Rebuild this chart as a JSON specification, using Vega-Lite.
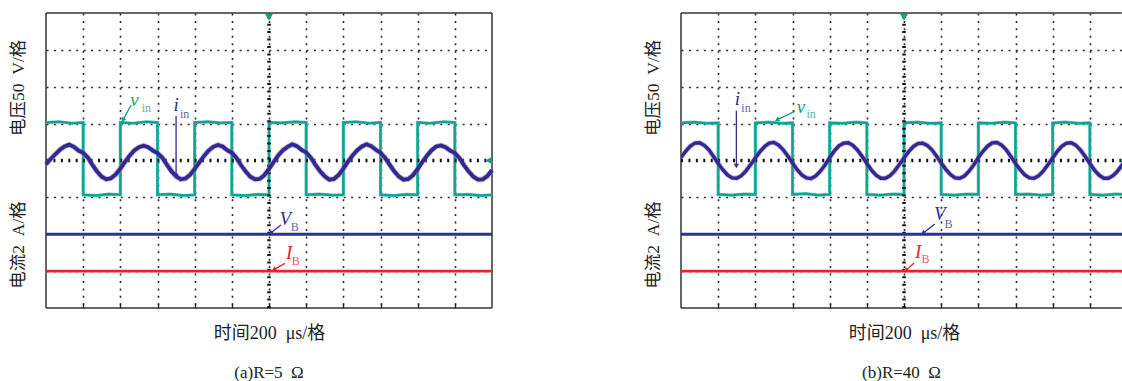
{
  "$schema": "https://vega.github.io/schema/vega-lite/v6.json",
  "padding": {"left": 9, "top": 11, "right": 0, "bottom": 0},
  "background": "white",
  "spacing": 189,
  "bounds": "flush",
  "config": {
    "view": {"stroke": null},
    "font": "Liberation Serif, Noto Sans CJK SC"
  },
  "datasets": {
    "frameA": [
      {"x": 0, "x2": 12, "y": 8, "y2": 8},
      {"x": 0, "x2": 12, "y": 0, "y2": 0},
      {"x": 0, "x2": 0, "y": 0, "y2": 8},
      {"x": 12, "x2": 12, "y": 0, "y2": 8}
    ],
    "frameB": [
      {"x": 0, "x2": 11.86, "y": 8, "y2": 8},
      {"x": 0, "x2": 11.86, "y": 0, "y2": 0},
      {"x": 0, "x2": 0, "y": 0, "y2": 8}
    ],
    "center": [
      {"x": 6, "x2": 6, "y": 0, "y2": 8},
      {"x": 0, "x2": 12, "y": 4, "y2": 4}
    ],
    "flat": [
      {"s": "VB", "x": 0, "x2": 12, "y": 2.0},
      {"s": "IB", "x": 0, "x2": 12, "y": 1.0}
    ],
    "mk": [
      {"m": "top", "x": 6, "y": 7.88},
      {"m": "right", "x": 11.91, "y": 4}
    ],
    "ylab": [
      {"t": "电压50\u2002V/格", "x": -0.73, "y": 5.97},
      {"t": "电流2\u2002A/格", "x": -0.73, "y": 1.71}
    ],
    "sqA": [
      {"x": 0, "y": 5.03}, {"x": 0.35, "y": 5.05}, {"x": 0.7, "y": 5.01}, {"x": 1, "y": 5.03},
      {"x": 1, "y": 3.07}, {"x": 1.35, "y": 3.05}, {"x": 1.7, "y": 3.09}, {"x": 2, "y": 3.07},
      {"x": 2, "y": 5.03}, {"x": 2.35, "y": 5.01}, {"x": 2.7, "y": 5.05}, {"x": 3, "y": 5.03},
      {"x": 3, "y": 3.07}, {"x": 3.35, "y": 3.09}, {"x": 3.7, "y": 3.05}, {"x": 4, "y": 3.07},
      {"x": 4, "y": 5.03}, {"x": 4.35, "y": 5.05}, {"x": 4.7, "y": 5.02}, {"x": 5, "y": 5.03},
      {"x": 5, "y": 3.07}, {"x": 5.35, "y": 3.05}, {"x": 5.7, "y": 3.08}, {"x": 6, "y": 3.07},
      {"x": 6, "y": 5.03}, {"x": 6.35, "y": 5.02}, {"x": 6.7, "y": 5.05}, {"x": 7, "y": 5.03},
      {"x": 7, "y": 3.07}, {"x": 7.35, "y": 3.09}, {"x": 7.7, "y": 3.06}, {"x": 8, "y": 3.07},
      {"x": 8, "y": 5.03}, {"x": 8.35, "y": 5.05}, {"x": 8.7, "y": 5.01}, {"x": 9, "y": 5.03},
      {"x": 9, "y": 3.07}, {"x": 9.35, "y": 3.05}, {"x": 9.7, "y": 3.08}, {"x": 10, "y": 3.07},
      {"x": 10, "y": 5.03}, {"x": 10.35, "y": 5.01}, {"x": 10.7, "y": 5.05}, {"x": 11, "y": 5.03},
      {"x": 11, "y": 3.07}, {"x": 11.35, "y": 3.08}, {"x": 11.7, "y": 3.05}, {"x": 12, "y": 3.07}
    ],
    "sqB": [
      {"x": 0, "y": 5.02}, {"x": 0.35, "y": 5.04}, {"x": 0.7, "y": 5.01}, {"x": 1, "y": 5.02},
      {"x": 1, "y": 3.08}, {"x": 1.35, "y": 3.06}, {"x": 1.7, "y": 3.09}, {"x": 2, "y": 3.08},
      {"x": 2, "y": 5.02}, {"x": 2.35, "y": 5.04}, {"x": 2.7, "y": 5.01}, {"x": 3, "y": 5.02},
      {"x": 3, "y": 3.08}, {"x": 3.35, "y": 3.10}, {"x": 3.7, "y": 3.06}, {"x": 4, "y": 3.08},
      {"x": 4, "y": 5.02}, {"x": 4.35, "y": 5.01}, {"x": 4.7, "y": 5.04}, {"x": 5, "y": 5.02},
      {"x": 5, "y": 3.08}, {"x": 5.35, "y": 3.06}, {"x": 5.7, "y": 3.09}, {"x": 6, "y": 3.08},
      {"x": 6, "y": 5.02}, {"x": 6.35, "y": 5.04}, {"x": 6.7, "y": 5.01}, {"x": 7, "y": 5.02},
      {"x": 7, "y": 3.08}, {"x": 7.35, "y": 3.06}, {"x": 7.7, "y": 3.09}, {"x": 8, "y": 3.08},
      {"x": 8, "y": 5.02}, {"x": 8.35, "y": 5.01}, {"x": 8.7, "y": 5.04}, {"x": 9, "y": 5.02},
      {"x": 9, "y": 3.08}, {"x": 9.35, "y": 3.09}, {"x": 9.7, "y": 3.06}, {"x": 10, "y": 3.08},
      {"x": 10, "y": 5.02}, {"x": 10.35, "y": 5.04}, {"x": 10.7, "y": 5.01}, {"x": 11, "y": 5.02},
      {"x": 11, "y": 3.08}, {"x": 11.35, "y": 3.06}, {"x": 11.7, "y": 3.09}, {"x": 12, "y": 3.08}
    ],
    "sinA": [
      {"x": 0, "y": 3.90}, {"x": 0.125, "y": 4.04}, {"x": 0.25, "y": 4.17}, {"x": 0.375, "y": 4.29},
      {"x": 0.5, "y": 4.38}, {"x": 0.625, "y": 4.43}, {"x": 0.75, "y": 4.37}, {"x": 0.875, "y": 4.27},
      {"x": 1, "y": 4.21}, {"x": 1.125, "y": 4.08}, {"x": 1.25, "y": 3.88}, {"x": 1.375, "y": 3.70},
      {"x": 1.5, "y": 3.56}, {"x": 1.625, "y": 3.49}, {"x": 1.75, "y": 3.52}, {"x": 1.875, "y": 3.62},
      {"x": 2, "y": 3.78}, {"x": 2.125, "y": 3.96}, {"x": 2.25, "y": 4.13}, {"x": 2.375, "y": 4.27},
      {"x": 2.5, "y": 4.36}, {"x": 2.625, "y": 4.40}, {"x": 2.75, "y": 4.36}, {"x": 2.875, "y": 4.27},
      {"x": 3, "y": 4.20}, {"x": 3.125, "y": 4.08}, {"x": 3.25, "y": 3.89}, {"x": 3.375, "y": 3.71},
      {"x": 3.5, "y": 3.57}, {"x": 3.625, "y": 3.49}, {"x": 3.75, "y": 3.51}, {"x": 3.875, "y": 3.61},
      {"x": 4, "y": 3.77}, {"x": 4.125, "y": 3.95}, {"x": 4.25, "y": 4.12}, {"x": 4.375, "y": 4.27},
      {"x": 4.5, "y": 4.37}, {"x": 4.625, "y": 4.42}, {"x": 4.75, "y": 4.38}, {"x": 4.875, "y": 4.28},
      {"x": 5, "y": 4.21}, {"x": 5.125, "y": 4.07}, {"x": 5.25, "y": 3.87}, {"x": 5.375, "y": 3.70},
      {"x": 5.5, "y": 3.56}, {"x": 5.625, "y": 3.49}, {"x": 5.75, "y": 3.50}, {"x": 5.875, "y": 3.60},
      {"x": 6, "y": 3.77}, {"x": 6.125, "y": 3.96}, {"x": 6.25, "y": 4.14}, {"x": 6.375, "y": 4.28},
      {"x": 6.5, "y": 4.37}, {"x": 6.625, "y": 4.44}, {"x": 6.75, "y": 4.39}, {"x": 6.875, "y": 4.29},
      {"x": 7, "y": 4.22}, {"x": 7.125, "y": 4.08}, {"x": 7.25, "y": 3.88}, {"x": 7.375, "y": 3.71},
      {"x": 7.5, "y": 3.57}, {"x": 7.625, "y": 3.48}, {"x": 7.75, "y": 3.50}, {"x": 7.875, "y": 3.61},
      {"x": 8, "y": 3.78}, {"x": 8.125, "y": 3.97}, {"x": 8.25, "y": 4.14}, {"x": 8.375, "y": 4.28},
      {"x": 8.5, "y": 4.38}, {"x": 8.625, "y": 4.44}, {"x": 8.75, "y": 4.39}, {"x": 8.875, "y": 4.29},
      {"x": 9, "y": 4.21}, {"x": 9.125, "y": 4.07}, {"x": 9.25, "y": 3.88}, {"x": 9.375, "y": 3.70},
      {"x": 9.5, "y": 3.56}, {"x": 9.625, "y": 3.48}, {"x": 9.75, "y": 3.50}, {"x": 9.875, "y": 3.60},
      {"x": 10, "y": 3.77}, {"x": 10.125, "y": 3.96}, {"x": 10.25, "y": 4.13}, {"x": 10.375, "y": 4.28},
      {"x": 10.5, "y": 4.38}, {"x": 10.625, "y": 4.41}, {"x": 10.75, "y": 4.36}, {"x": 10.875, "y": 4.27},
      {"x": 11, "y": 4.20}, {"x": 11.125, "y": 4.06}, {"x": 11.25, "y": 3.87}, {"x": 11.375, "y": 3.70},
      {"x": 11.5, "y": 3.56}, {"x": 11.625, "y": 3.48}, {"x": 11.75, "y": 3.49}, {"x": 11.875, "y": 3.58},
      {"x": 12, "y": 3.74}
    ],
    "sinB": [
      {"x": 0, "y": 4.08}, {"x": 0.125, "y": 4.25}, {"x": 0.25, "y": 4.39}, {"x": 0.375, "y": 4.47},
      {"x": 0.5, "y": 4.48}, {"x": 0.625, "y": 4.41}, {"x": 0.75, "y": 4.29}, {"x": 0.875, "y": 4.11},
      {"x": 1, "y": 3.92}, {"x": 1.125, "y": 3.75}, {"x": 1.25, "y": 3.61}, {"x": 1.375, "y": 3.53},
      {"x": 1.5, "y": 3.52}, {"x": 1.625, "y": 3.59}, {"x": 1.75, "y": 3.72}, {"x": 1.875, "y": 3.89},
      {"x": 2, "y": 4.07}, {"x": 2.125, "y": 4.24}, {"x": 2.25, "y": 4.38}, {"x": 2.375, "y": 4.47},
      {"x": 2.5, "y": 4.49}, {"x": 2.625, "y": 4.42}, {"x": 2.75, "y": 4.29}, {"x": 2.875, "y": 4.12},
      {"x": 3, "y": 3.93}, {"x": 3.125, "y": 3.75}, {"x": 3.25, "y": 3.61}, {"x": 3.375, "y": 3.53},
      {"x": 3.5, "y": 3.51}, {"x": 3.625, "y": 3.58}, {"x": 3.75, "y": 3.71}, {"x": 3.875, "y": 3.88},
      {"x": 4, "y": 4.08}, {"x": 4.125, "y": 4.26}, {"x": 4.25, "y": 4.40}, {"x": 4.375, "y": 4.47},
      {"x": 4.5, "y": 4.48}, {"x": 4.625, "y": 4.41}, {"x": 4.75, "y": 4.28}, {"x": 4.875, "y": 4.11},
      {"x": 5, "y": 3.92}, {"x": 5.125, "y": 3.74}, {"x": 5.25, "y": 3.60}, {"x": 5.375, "y": 3.52},
      {"x": 5.5, "y": 3.52}, {"x": 5.625, "y": 3.59}, {"x": 5.75, "y": 3.72}, {"x": 5.875, "y": 3.89},
      {"x": 6, "y": 4.07}, {"x": 6.125, "y": 4.24}, {"x": 6.25, "y": 4.38}, {"x": 6.375, "y": 4.46},
      {"x": 6.5, "y": 4.47}, {"x": 6.625, "y": 4.41}, {"x": 6.75, "y": 4.29}, {"x": 6.875, "y": 4.12},
      {"x": 7, "y": 3.93}, {"x": 7.125, "y": 3.76}, {"x": 7.25, "y": 3.62}, {"x": 7.375, "y": 3.53},
      {"x": 7.5, "y": 3.52}, {"x": 7.625, "y": 3.58}, {"x": 7.75, "y": 3.71}, {"x": 7.875, "y": 3.88},
      {"x": 8, "y": 4.08}, {"x": 8.125, "y": 4.25}, {"x": 8.25, "y": 4.39}, {"x": 8.375, "y": 4.48},
      {"x": 8.5, "y": 4.49}, {"x": 8.625, "y": 4.42}, {"x": 8.75, "y": 4.29}, {"x": 8.875, "y": 4.11},
      {"x": 9, "y": 3.92}, {"x": 9.125, "y": 3.75}, {"x": 9.25, "y": 3.61}, {"x": 9.375, "y": 3.53},
      {"x": 9.5, "y": 3.52}, {"x": 9.625, "y": 3.59}, {"x": 9.75, "y": 3.72}, {"x": 9.875, "y": 3.89},
      {"x": 10, "y": 4.07}, {"x": 10.125, "y": 4.25}, {"x": 10.25, "y": 4.39}, {"x": 10.375, "y": 4.47},
      {"x": 10.5, "y": 4.48}, {"x": 10.625, "y": 4.41}, {"x": 10.75, "y": 4.28}, {"x": 10.875, "y": 4.11},
      {"x": 11, "y": 3.92}, {"x": 11.125, "y": 3.74}, {"x": 11.25, "y": 3.60}, {"x": 11.375, "y": 3.52},
      {"x": 11.5, "y": 3.52}, {"x": 11.625, "y": 3.59}, {"x": 11.75, "y": 3.72}, {"x": 11.875, "y": 3.89},
      {"x": 12, "y": 4.07}
    ],
    "labA": [
      {"t": "v", "k": "m", "s": "vin", "x": 2.38, "y": 5.64},
      {"t": "in", "k": "s", "s": "vin", "x": 2.70, "y": 5.43},
      {"t": "i", "k": "m", "s": "iin", "x": 3.50, "y": 5.50},
      {"t": "in", "k": "s", "s": "iin", "x": 3.73, "y": 5.27},
      {"t": "V", "k": "m", "s": "VB", "x": 6.44, "y": 2.42},
      {"t": "B", "k": "s", "s": "VB", "x": 6.69, "y": 2.20},
      {"t": "I", "k": "m", "s": "IB", "x": 6.54, "y": 1.48},
      {"t": "B", "k": "s", "s": "IB", "x": 6.72, "y": 1.27}
    ],
    "arrA": [
      {"s": "vin", "x": 2.07, "y": 5.10, "x2": 2.29, "y2": 5.50},
      {"s": "iin", "x": 3.50, "y": 3.58, "x2": 3.50, "y2": 5.21},
      {"s": "VB", "x": 6.04, "y": 2.03, "x2": 6.32, "y2": 2.25},
      {"s": "IB", "x": 6.13, "y": 1.04, "x2": 6.43, "y2": 1.21}
    ],
    "labB": [
      {"t": "i", "k": "m", "s": "iin", "x": 1.52, "y": 5.67},
      {"t": "in", "k": "s", "s": "iin", "x": 1.75, "y": 5.42},
      {"t": "v", "k": "m", "s": "vin", "x": 3.23, "y": 5.45},
      {"t": "in", "k": "s", "s": "vin", "x": 3.50, "y": 5.26},
      {"t": "V", "k": "m", "s": "VB", "x": 6.96, "y": 2.55},
      {"t": "B", "k": "s", "s": "VB", "x": 7.20, "y": 2.28},
      {"t": "I", "k": "m", "s": "IB", "x": 6.38, "y": 1.53},
      {"t": "B", "k": "s", "s": "IB", "x": 6.58, "y": 1.33}
    ],
    "arrB": [
      {"s": "iin", "x": 1.49, "y": 3.85, "x2": 1.49, "y2": 5.35},
      {"s": "vin", "x": 2.58, "y": 5.10, "x2": 3.06, "y2": 5.33},
      {"s": "VB", "x": 6.51, "y": 2.03, "x2": 6.83, "y2": 2.28},
      {"s": "IB", "x": 6.05, "y": 1.02, "x2": 6.27, "y2": 1.22}
    ]
  },
  "hconcat": [
    {
      "width": 446,
      "height": 295,
      "title": {"text": "(a)R=5\u2002Ω", "orient": "bottom", "offset": 23, "fontSize": 17, "fontWeight": "normal", "font": "Liberation Serif, Noto Sans CJK SC", "color": "#222"},
      "encoding": {
        "x": {"field": "x", "type": "quantitative", "scale": {"domain": [0, 12], "nice": false, "zero": false},
          "axis": {"values": [1, 2, 3, 4, 5, 6, 7, 8, 9, 10, 11], "grid": true, "gridDash": [2, 5.43], "gridColor": "#2a2a2a", "gridWidth": 1.6, "domain": false, "labels": false, "ticks": true, "tickSize": -5, "tickColor": "#222", "tickWidth": 1.3,
            "title": "时间200\u2002μs/格", "titleFont": "Liberation Serif, Noto Sans CJK SC", "titleFontSize": 18, "titleFontWeight": "normal", "titleColor": "#222", "titleBaseline": "middle", "titleAlign": "center", "titleY": 25, "titleX": 223}},
        "y": {"field": "y", "type": "quantitative", "scale": {"domain": [0, 8], "nice": false, "zero": false},
          "axis": {"values": [1, 2, 3, 5, 6, 7], "grid": true, "gridDash": [2, 5.43], "gridColor": "#2a2a2a", "gridWidth": 1.6, "domain": false, "labels": false, "ticks": false, "title": null}}
      },
      "layer": [
        {"data": {"name": "frameA"}, "mark": {"type": "rule", "color": "#333", "strokeWidth": 1.5}, "encoding": {"x2": {"field": "x2"}, "y2": {"field": "y2"}}},
        {"data": {"name": "sqA"}, "mark": {"type": "line", "color": "#3cc6cc", "strokeWidth": 3.2}, "encoding": {"order": {"value": null}}},
        {"data": {"name": "sqA"}, "mark": {"type": "line", "color": "#16a083", "strokeWidth": 2}, "encoding": {"order": {"value": null}}},
        {"data": {"name": "center"}, "mark": {"type": "rule", "color": "#111", "strokeWidth": 3.5, "strokeDash": [2, 5.43]}, "encoding": {"x2": {"field": "x2"}, "y2": {"field": "y2"}}},
        {"data": {"name": "sinA"}, "mark": {"type": "line", "color": "#a070c0", "strokeWidth": 5.5, "opacity": 0.55}},
        {"data": {"name": "sinA"}, "mark": {"type": "line", "color": "#2e2a8f", "strokeWidth": 3.8}},
        {"data": {"name": "flat"}, "mark": {"type": "rule", "strokeWidth": 2.8}, "encoding": {"x2": {"field": "x2"}, "color": {"field": "s", "type": "nominal", "scale": {"domain": ["vin", "iin", "VB", "IB"], "range": ["#179c80", "#2f2c94", "#2f309a", "#e2262e"]}, "legend": null}}},
        {"data": {"name": "mk"}, "mark": {"type": "point", "filled": true, "color": "#17a184", "size": 60, "opacity": 1}, "encoding": {"shape": {"field": "m", "type": "nominal", "scale": {"domain": ["top", "right"], "range": ["triangle-down", "triangle-left"]}, "legend": null}}},
        {"data": {"name": "arrA"}, "mark": {"type": "rule", "strokeWidth": 1.3}, "encoding": {"x2": {"field": "x2"}, "y2": {"field": "y2"}, "color": {"field": "s", "type": "nominal", "legend": null}}},
        {"data": {"name": "arrA"}, "transform": [{"calculate": "atan2((datum.x-datum.x2)*37.17,(datum.y-datum.y2)*36.875)*180/PI", "as": "a"}], "mark": {"type": "point", "shape": "triangle-up", "filled": true, "size": 28, "opacity": 1}, "encoding": {"angle": {"field": "a", "type": "quantitative", "scale": null}, "color": {"field": "s", "type": "nominal", "legend": null}}},
        {"data": {"name": "labA"}, "transform": [{"filter": "datum.k == 'm'"}], "mark": {"type": "text", "font": "Liberation Serif", "fontStyle": "italic", "fontSize": 19}, "encoding": {"text": {"field": "t"}, "color": {"field": "s", "type": "nominal", "legend": null}}},
        {"data": {"name": "labA"}, "transform": [{"filter": "datum.k == 's'"}], "mark": {"type": "text", "font": "Liberation Serif", "fontSize": 12, "opacity": 0.75}, "encoding": {"text": {"field": "t"}, "color": {"field": "s", "type": "nominal", "legend": null}}},
        {"data": {"name": "ylab"}, "mark": {"type": "text", "angle": 270, "fontSize": 17.5, "font": "Liberation Serif, Noto Sans CJK SC", "color": "#222"}, "encoding": {"text": {"field": "t"}}}
      ]
    },
    {
      "width": 441,
      "height": 295,
      "title": {"text": "(b)R=40\u2002Ω", "orient": "bottom", "offset": 23, "fontSize": 17, "fontWeight": "normal", "font": "Liberation Serif, Noto Sans CJK SC", "color": "#222"},
      "encoding": {
        "x": {"field": "x", "type": "quantitative", "scale": {"domain": [0, 11.865], "nice": false, "zero": false},
          "axis": {"values": [1, 2, 3, 4, 5, 6, 7, 8, 9, 10, 11], "grid": true, "gridDash": [2, 5.43], "gridColor": "#2a2a2a", "gridWidth": 1.6, "domain": false, "labels": false, "ticks": true, "tickSize": -5, "tickColor": "#222", "tickWidth": 1.3,
            "title": "时间200\u2002μs/格", "titleFont": "Liberation Serif, Noto Sans CJK SC", "titleFontSize": 18, "titleFontWeight": "normal", "titleColor": "#222", "titleBaseline": "middle", "titleAlign": "center", "titleY": 25, "titleX": 223}},
        "y": {"field": "y", "type": "quantitative", "scale": {"domain": [0, 8], "nice": false, "zero": false},
          "axis": {"values": [1, 2, 3, 5, 6, 7], "grid": true, "gridDash": [2, 5.43], "gridColor": "#2a2a2a", "gridWidth": 1.6, "domain": false, "labels": false, "ticks": false, "title": null}}
      },
      "layer": [
        {"data": {"name": "frameB"}, "mark": {"type": "rule", "color": "#333", "strokeWidth": 1.5}, "encoding": {"x2": {"field": "x2"}, "y2": {"field": "y2"}}},
        {"data": {"name": "sqB"}, "mark": {"type": "line", "color": "#3cc6cc", "strokeWidth": 3.2, "clip": true}, "encoding": {"order": {"value": null}}},
        {"data": {"name": "sqB"}, "mark": {"type": "line", "color": "#16a083", "strokeWidth": 2, "clip": true}, "encoding": {"order": {"value": null}}},
        {"data": {"name": "center"}, "mark": {"type": "rule", "color": "#111", "strokeWidth": 3.5, "strokeDash": [2, 5.43], "clip": true}, "encoding": {"x2": {"field": "x2"}, "y2": {"field": "y2"}}},
        {"data": {"name": "sinB"}, "mark": {"type": "line", "color": "#a070c0", "strokeWidth": 5, "opacity": 0.55, "clip": true}},
        {"data": {"name": "sinB"}, "mark": {"type": "line", "color": "#2e2a8f", "strokeWidth": 3.4, "clip": true}},
        {"data": {"name": "flat"}, "mark": {"type": "rule", "strokeWidth": 2.8, "clip": true}, "encoding": {"x2": {"field": "x2"}, "color": {"field": "s", "type": "nominal", "scale": {"domain": ["vin", "iin", "VB", "IB"], "range": ["#179c80", "#2f2c94", "#2f309a", "#e2262e"]}, "legend": null}}},
        {"data": {"name": "mk"}, "mark": {"type": "point", "filled": true, "color": "#17a184", "size": 60, "opacity": 1, "clip": true}, "encoding": {"shape": {"field": "m", "type": "nominal", "scale": {"domain": ["top", "right"], "range": ["triangle-down", "triangle-left"]}, "legend": null}}},
        {"data": {"name": "arrB"}, "mark": {"type": "rule", "strokeWidth": 1.3}, "encoding": {"x2": {"field": "x2"}, "y2": {"field": "y2"}, "color": {"field": "s", "type": "nominal", "legend": null}}},
        {"data": {"name": "arrB"}, "transform": [{"calculate": "atan2((datum.x-datum.x2)*37.17,(datum.y-datum.y2)*36.875)*180/PI", "as": "a"}], "mark": {"type": "point", "shape": "triangle-up", "filled": true, "size": 28, "opacity": 1}, "encoding": {"angle": {"field": "a", "type": "quantitative", "scale": null}, "color": {"field": "s", "type": "nominal", "legend": null}}},
        {"data": {"name": "labB"}, "transform": [{"filter": "datum.k == 'm'"}], "mark": {"type": "text", "font": "Liberation Serif", "fontStyle": "italic", "fontSize": 19}, "encoding": {"text": {"field": "t"}, "color": {"field": "s", "type": "nominal", "legend": null}}},
        {"data": {"name": "labB"}, "transform": [{"filter": "datum.k == 's'"}], "mark": {"type": "text", "font": "Liberation Serif", "fontSize": 12, "opacity": 0.75}, "encoding": {"text": {"field": "t"}, "color": {"field": "s", "type": "nominal", "legend": null}}},
        {"data": {"name": "ylab"}, "mark": {"type": "text", "angle": 270, "fontSize": 17.5, "font": "Liberation Serif, Noto Sans CJK SC", "color": "#222"}, "encoding": {"text": {"field": "t"}}}
      ]
    }
  ]
}
